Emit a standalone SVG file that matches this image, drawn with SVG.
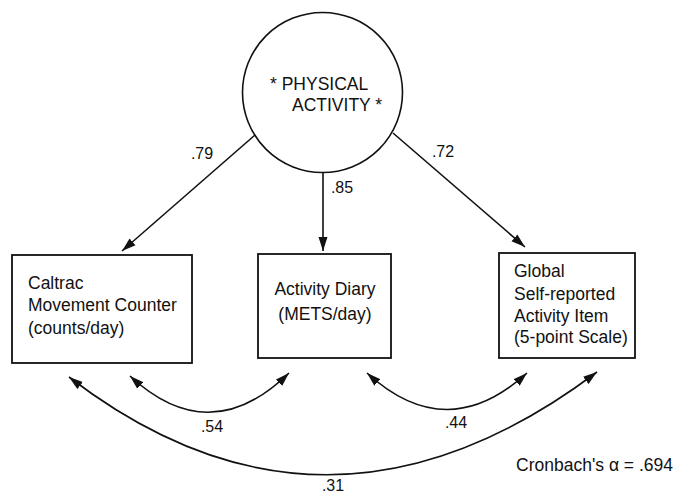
<svg xmlns="http://www.w3.org/2000/svg" width="674" height="496" viewBox="0 0 674 496">
<defs>
<marker id="ah" viewBox="0 0 14 10" refX="14" refY="5" markerWidth="14" markerHeight="10" markerUnits="userSpaceOnUse" orient="auto-start-reverse">
<path d="M0,0.5 L14,5 L0,9.5 Z" fill="#111"/>
</marker>
<style>
.t{font-family:"Liberation Sans",Arial,sans-serif;font-size:17.5px;fill:#111}
.lbl{font-family:"Liberation Sans",Arial,sans-serif;font-size:16px;fill:#111}
.box{fill:#fff;stroke:#111;stroke-width:1.8}
.edge{fill:none;stroke:#111;stroke-width:1.6;marker-end:url(#ah)}
.cov{fill:none;stroke:#111;stroke-width:1.6;marker-start:url(#ah);marker-end:url(#ah)}
</style>
</defs>
<rect width="674" height="496" fill="#fff"/>
<g id="latent">
<circle cx="322.5" cy="92.5" r="80" fill="#fff" stroke="#111" stroke-width="1.6"/>
<text class="t" x="270" y="90">* PHYSICAL</text>
<text class="t" x="292" y="111">ACTIVITY *</text>
</g>
<g id="caltrac">
<rect class="box" x="12" y="255" width="180" height="108"/>
<text class="t" x="28" y="289">Caltrac</text>
<text class="t" x="28" y="311">Movement Counter</text>
<text class="t" x="28" y="334">(counts/day)</text>
</g>
<g id="diary">
<rect class="box" x="258" y="254" width="133" height="104"/>
<text class="t" x="325" y="295" text-anchor="middle">Activity Diary</text>
<text class="t" x="325" y="320" text-anchor="middle">(METS/day)</text>
</g>
<g id="global">
<rect class="box" x="499" y="253" width="136" height="105"/>
<text class="t" x="514" y="277">Global</text>
<text class="t" x="514" y="300">Self-reported</text>
<text class="t" x="514" y="322">Activity Item</text>
<text class="t" x="514" y="343">(5-point Scale)</text>
</g>
<g id="connectors">
<line class="edge" x1="255" y1="135" x2="122" y2="251"/>
<line class="edge" x1="323" y1="172" x2="323" y2="251"/>
<line class="edge" x1="393" y1="133" x2="525" y2="247"/>
<path class="cov" d="M130,376 Q210,450 289,373"/>
<path class="cov" d="M367,373 Q447,446 527,373"/>
<path class="cov" d="M69,377 Q327,575 597,372"/>
<text class="lbl" x="202" y="159" text-anchor="middle">.79</text>
<text class="lbl" x="342" y="193" text-anchor="middle">.85</text>
<text class="lbl" x="443" y="157" text-anchor="middle">.72</text>
<text class="lbl" x="212" y="432" text-anchor="middle">.54</text>
<text class="lbl" x="456" y="428" text-anchor="middle">.44</text>
<text class="lbl" x="333" y="491" text-anchor="middle">.31</text>
</g>
<text class="t" x="673" y="471" text-anchor="end">Cronbach's α = .694</text>
</svg>
